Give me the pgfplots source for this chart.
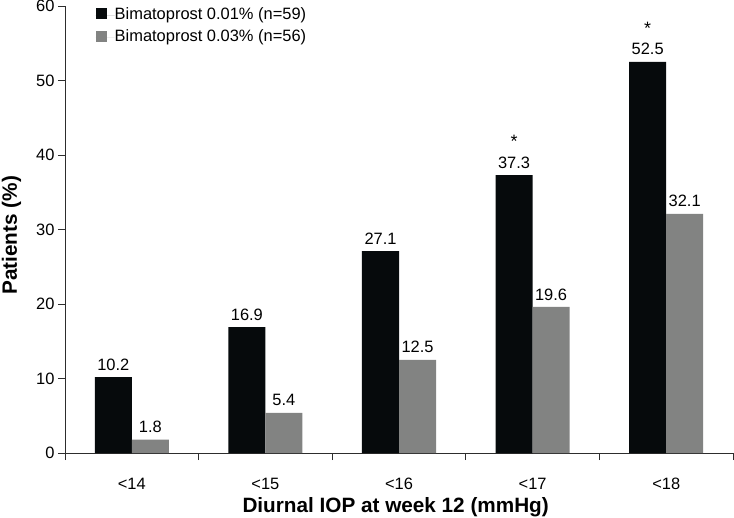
\documentclass[border=0pt]{standalone}
\usepackage{fontspec}
\setmainfont{Liberation Sans}
\usepackage{pgfplots}
\pgfplotsset{compat=1.18}
\definecolor{barblack}{RGB}{6,10,12}
\definecolor{bargray}{RGB}{130,131,130}
\definecolor{axcol}{RGB}{45,45,45}
\pgfplotsset{sqleg/.style={legend image code/.code={%
  \fill[##1] (0bp,-4bp) rectangle (10.8bp,6.8bp);
  \path (0bp,0bp) -- (19bp,0bp);}}}
\begin{document}
\begin{tikzpicture}
\begin{axis}[
  scale only axis, width=668bp, height=447bp,
  xmin=-0.5, xmax=4.5, ymin=0, ymax=60,
  axis x line*=bottom, axis y line*=left,
  axis line style={-, line width=0.8bp, draw=axcol},
  ybar, bar width=0.277,
  ytick={0,10,...,60},
  xtick={-0.5,0.5,1.5,2.5,3.5,4.5},
  xticklabels={<14,<15,<16,<17,<18,},
  xticklabel style={xshift=66.8bp, anchor=base, yshift=-29.3bp, inner sep=0pt},
  tick align=outside, major tick length=7bp,
  tick style={line width=0.8bp, draw=axcol},
  /pgf/number format/assume math mode=true,
  ticklabel style={font=\fontsize{16.5}{19}\selectfont},
  every axis x label/.style={at={(axis description cs:0.495,0)}, anchor=base, yshift=-59bp},
  every axis y label/.style={at={(axis description cs:0,0.487)}, xshift=-48bp, rotate=90, anchor=base},
  xlabel={\fontsize{20.8}{24}\selectfont\bfseries Diurnal IOP at week 12 (mmHg)},
  ylabel={\fontsize{20.8}{24}\selectfont\bfseries Patients (\%)},
  nodes near coords,
  every node near coord/.append style={anchor=south, inner sep=0pt, text depth=0pt, yshift=6.7bp, font=\fontsize{16.5}{19}\selectfont, text=black},
  legend style={at={(axis description cs:0.046,1)}, anchor=north west, yshift=-1.5bp,
    draw=none, fill=none, inner sep=0pt, outer sep=0pt, row sep=7.2bp,
    font=\fontsize{16.5}{19}\selectfont,
    nodes={inner sep=0pt, text height=11.8bp, text depth=3.5bp}},
  legend cell align=left,
]
\addplot[fill=barblack, draw=none, bar shift=-0.1385, sqleg] coordinates {(0,10.2) (1,16.9) (2,27.1) (3,37.3) (4,52.5)};
\addplot[fill=bargray, draw=none, bar shift=0.1385, sqleg] coordinates {(0,1.8) (1,5.4) (2,12.5) (3,19.6) (4,32.1)};
\addplot[draw=none, fill=none, bar shift=-0.1385, forget plot, nodes near coords={*},
  every node near coord/.append style={yshift=20.5bp, font=\fontsize{18}{20}\selectfont}] coordinates {(3,37.3) (4,52.5)};
\legend{Bimatoprost 0.01\% (n=59), Bimatoprost 0.03\% (n=56)}
\end{axis}
\pgfresetboundingbox
\path (-65bp,-65bp) rectangle (669bp,453bp);
\end{tikzpicture}
\end{document}
